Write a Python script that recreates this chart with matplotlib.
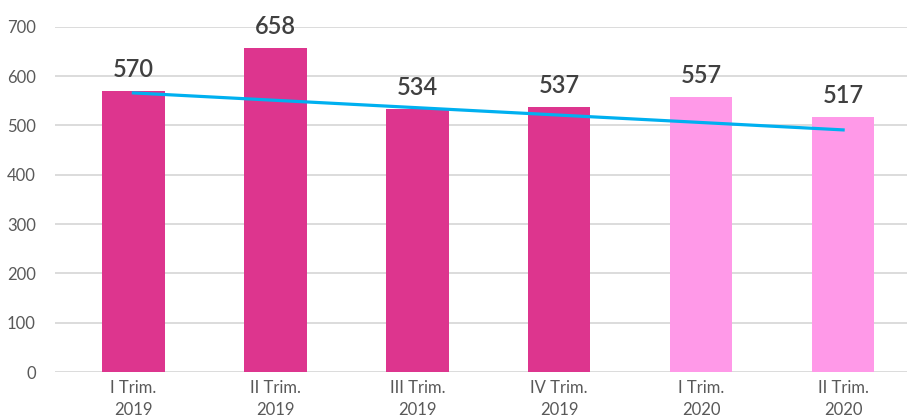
import matplotlib
matplotlib.use('Agg')
import matplotlib.pyplot as plt

quarters = ['I Trim.\n2019', 'II Trim.\n2019', 'III Trim.\n2019',
            'IV Trim.\n2019', 'I Trim.\n2020', 'II Trim.\n2020']
values = [570, 658, 534, 537, 557, 517]
years = [2019, 2019, 2019, 2019, 2020, 2020]
trend_x = [0, 5]
trend_y = [566, 491]
yticks = [0, 100, 200, 300, 400, 500, 600, 700]

year_colors = {2019: '#DD358E', 2020: '#FF99E8'}

plt.rcParams['font.family'] = ['Lato', 'DejaVu Sans']

fig = plt.figure(figsize=(9.07, 4.19), dpi=100)
ax = fig.add_axes([0.061, 0.112, 0.939, 0.824])

x = list(range(len(values)))
ax.bar(x, values, width=0.44, color=[year_colors[y] for y in years], zorder=2)
ax.plot(trend_x, trend_y, color='#00B0F0', linewidth=2.3, zorder=3)

# value labels above each bar
for i, v in enumerate(values):
    ax.text(i, v + 20, str(v), ha='center', va='bottom', fontsize=17,
            fontweight='semibold', color='#404040', clip_on=False, zorder=4)

ax.set_xlim(-0.55, 5.45)
ax.set_ylim(0, 700)
ax.set_yticks(yticks)
ax.set_xticks(x)
ax.set_xticklabels(quarters, fontsize=12, color='#595959', linespacing=1.45)
ax.tick_params(axis='y', labelsize=12, labelcolor='#595959', length=0, pad=14)
ax.tick_params(axis='x', length=0, pad=6)
ax.grid(axis='y', color='#D9D9D9', linewidth=1.3, zorder=0)
ax.set_axisbelow(True)
for s in ax.spines.values():
    s.set_visible(False)

fig.savefig('out.png', dpi=100)
